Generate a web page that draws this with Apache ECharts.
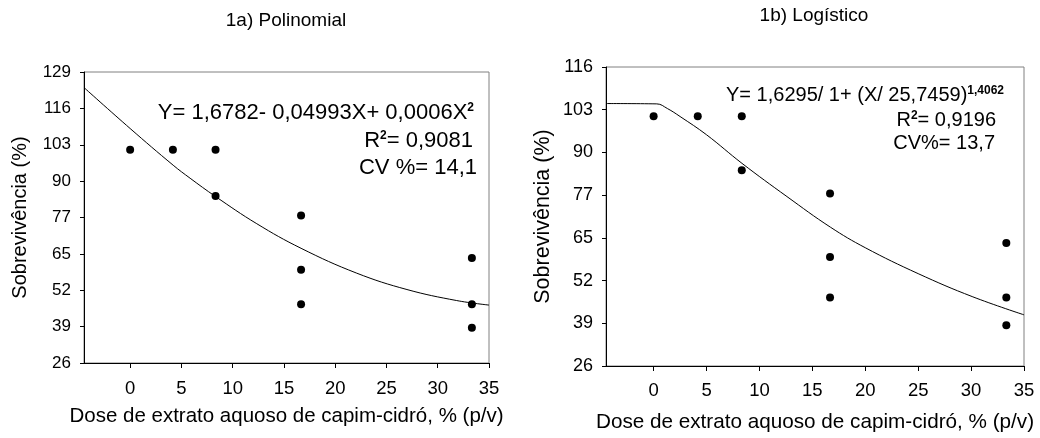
<!DOCTYPE html>
<html>
<head>
<meta charset="utf-8">
<script src="https://cdn.jsdelivr.net/npm/echarts@6/dist/echarts.min.js"></script>
<style>
  html, body { margin: 0; padding: 0; background: #fff; }
  #chart { width: 1040px; height: 438px; }
</style>
</head>
<body>
<div id="chart"></div>
<script>
var doseLeft = [0, 4.17, 8.33, 8.33, 16.67, 16.67, 16.67, 33.33, 33.33, 33.33]
var survLeft = [101.5, 101.5, 101.5, 85.1, 78.2, 59.0, 46.8, 63.2, 46.8, 38.5]
var doseRight = [0, 4.17, 8.33, 8.33, 16.67, 16.67, 16.67, 33.33, 33.33, 33.33]
var survRight = [101.2, 101.2, 101.2, 84.9, 77.9, 58.8, 46.6, 63.0, 46.6, 38.3]

// fitted curves, points
var polyX = [-4.5, 0, 4.2, 5.85, 8.3, 12.35, 16.67, 22.1, 27, 31.85, 35]
var polyY = [123.5, 109, 96.0, 91.4, 85.0, 75.3, 66.6, 57.8, 52.0, 48.1, 46.5]
var logX = [-4.5, 0.3, 1.3, 2.5, 5, 8.35, 12.6, 16.7, 20, 25, 30.1, 35]
var logY = [105, 104.9, 103.5, 101.1, 95.6, 87, 77, 67.8, 61.6, 53.8, 46.9, 41.4]

// axis ticks and their printed labels
var xTicks = [0, 5, 10, 15, 20, 25, 30, 35]
var yTicksLeft = [26, 38.875, 51.75, 64.625, 77.5, 90.375, 103.25, 116.125, 129]
var yLabelsLeft = ['26', '39', '52', '65', '77', '90', '103', '116', '129']
var yTicksRight = [26, 38.857, 51.714, 64.571, 77.429, 90.286, 103.143, 116]
var yLabelsRight = ['26', '39', '52', '65', '77', '90', '103', '116']

var FONT = '"Liberation Sans", Arial, sans-serif'

function pairs (xs, ys) {
  return xs.map(function (x, i) { return [x, ys[i]] })
}

function labelFor (ticks, labels) {
  return function (v) {
    var best = 0
    ticks.forEach(function (t, i) {
      if (Math.abs(t - v) < Math.abs(ticks[best] - v)) best = i
    })
    return labels[best]
  }
}

function xAxisOf (gridIndex, labelSize, nameSize, nameGap, labelMargin) {
  return {
    type: 'value',
    gridIndex: gridIndex,
    min: -4.5,
    max: 35,
    name: 'Dose de extrato aquoso de capim-cidró, % (p/v)',
    nameLocation: 'middle',
    nameGap: nameGap,
    nameTextStyle: { color: '#000', fontSize: nameSize, fontFamily: FONT },
    axisLine: { onZero: false, lineStyle: { color: '#000', width: 1 } },
    axisTick: { show: true, length: 5, customValues: xTicks, lineStyle: { color: '#000' } },
    axisLabel: { customValues: xTicks, margin: labelMargin, color: '#000', fontSize: labelSize, fontFamily: FONT },
    splitLine: { show: false }
  }
}

function yAxisOf (gridIndex, ticks, labels, labelSize, nameSize, nameGap) {
  return {
    type: 'value',
    gridIndex: gridIndex,
    min: ticks[0],
    max: ticks[ticks.length - 1],
    name: 'Sobrevivência (%)',
    nameLocation: 'middle',
    nameGap: nameGap,
    nameTextStyle: { color: '#000', fontSize: nameSize, fontFamily: FONT },
    axisLine: { show: true, onZero: false, lineStyle: { color: '#000', width: 1 } },
    axisTick: { show: true, length: 4, customValues: ticks, lineStyle: { color: '#000' } },
    axisLabel: {
      customValues: ticks,
      margin: 13,
      color: '#000',
      fontSize: labelSize,
      fontFamily: FONT,
      formatter: labelFor(ticks, labels)
    },
    splitLine: { show: false }
  }
}

var supStyle = { fontSize: 12, fontWeight: 'bold', fontFamily: FONT, verticalAlign: 'top', fill: '#000' }

function note (x, y, text, size) {
  return {
    type: 'text',
    x: x,
    y: y,
    style: {
      text: text,
      fontSize: size,
      fontFamily: FONT,
      fill: '#000',
      align: 'right',
      verticalAlign: 'middle',
      rich: {
        sup: supStyle,
        t: { fontSize: size, fontFamily: FONT, fill: '#000' }
      }
    }
  }
}

var chart = echarts.init(document.getElementById('chart'), null, { renderer: 'canvas' })

var option = {
  animation: false,
  backgroundColor: '#fff',
  grid: [
    { left: 84, top: 72, width: 405, height: 291, show: true, borderColor: '#808080', borderWidth: 1 },
    { left: 606, top: 67, width: 418, height: 300, show: true, borderColor: '#808080', borderWidth: 1 }
  ],
  xAxis: [
    xAxisOf(0, 18.5, 20.5, 43, 16),
    xAxisOf(1, 18.5, 20.7, 46, 15)
  ],
  yAxis: [
    yAxisOf(0, yTicksLeft, yLabelsLeft, 17, 20, 54),
    yAxisOf(1, yTicksRight, yLabelsRight, 18, 21.5, 52)
  ],
  series: [
    {
      type: 'line',
      xAxisIndex: 0,
      yAxisIndex: 0,
      data: pairs(polyX, polyY),
      smooth: 0.4,
      showSymbol: false,
      lineStyle: { color: '#000', width: 1 },
      silent: true
    },
    {
      type: 'scatter',
      xAxisIndex: 0,
      yAxisIndex: 0,
      data: pairs(doseLeft, survLeft),
      symbolSize: 8,
      itemStyle: { color: '#000', opacity: 1 }
    },
    {
      type: 'line',
      xAxisIndex: 1,
      yAxisIndex: 1,
      data: pairs(logX, logY),
      smooth: 0.4,
      showSymbol: false,
      lineStyle: { color: '#000', width: 1 },
      silent: true
    },
    {
      type: 'scatter',
      xAxisIndex: 1,
      yAxisIndex: 1,
      data: pairs(doseRight, survRight),
      symbolSize: 8,
      itemStyle: { color: '#000', opacity: 1 }
    }
  ],
  graphic: [
    {
      type: 'text', x: 286, y: 21,
      style: { text: '1a) Polinomial', fontSize: 19, fontFamily: FONT, fill: '#000', align: 'center', verticalAlign: 'middle' }
    },
    {
      type: 'text', x: 814, y: 16,
      style: { text: '1b) Logístico', fontSize: 19, fontFamily: FONT, fill: '#000', align: 'center', verticalAlign: 'middle' }
    },
    note(474, 113, '{t|Y= 1,6782- 0,04993X+ 0,0006X}{sup|2}', 22),
    note(473, 141, '{t|R}{sup|2}{t|= 0,9081}', 22),
    note(477, 168, '{t|CV %= 14,1}', 22),
    note(1004, 95, '{t|Y= 1,6295/ 1+ (X/ 25,7459)}{sup|1,4062}', 20),
    note(996, 120, '{t|R}{sup|2}{t|= 0,9196}', 20),
    note(995, 143, '{t|CV%= 13,7}', 20)
  ]
}

chart.setOption(option)
</script>
</body>
</html>
